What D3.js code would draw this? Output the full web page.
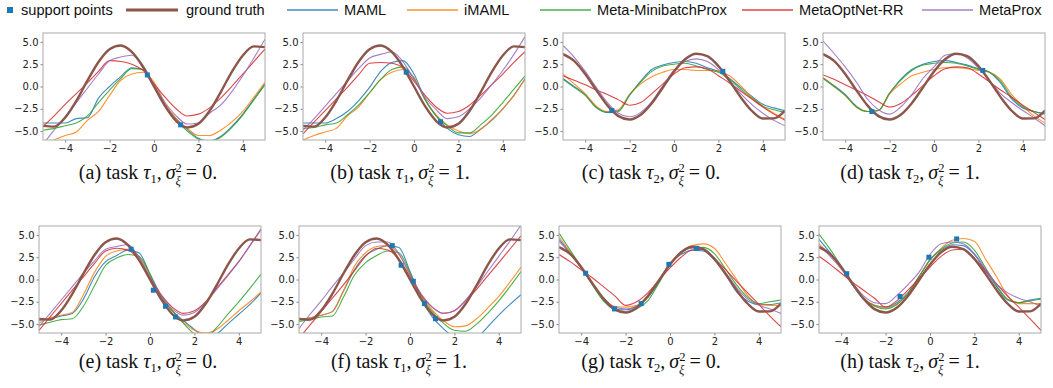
<!DOCTYPE html>
<html>
<head>
<meta charset="utf-8">
<script src="https://cdn.jsdelivr.net/npm/d3@7"></script>
<style>
  body { margin: 0; background: #fff; }
</style>
</head>
<body>
<svg id="chart" width="1053" height="388"></svg>
<script>
const xGrid = [-5, -4.5, -4, -3.5, -3, -2.5, -2, -1.5, -1, -0.5, 0, 0.5, 1, 1.5, 2, 2.5, 3, 3.5, 4, 4.5, 5];

const truthTau1 = [-4.41, -4.5, -3.48, -1.61, 0.65, 2.75, 4.18, 4.59, 3.87, 2.21, 0, -2.21, -3.87, -4.59, -4.18, -2.75, -0.65, 1.61, 3.48, 4.5, 4.41];
const truthTau2 = [3.64, 2.87, 1.4, -0.41, -2.12, -3.32, -3.7, -3.17, -1.87, -0.11, 1.68, 3.05, 3.68, 3.41, 2.3, 0.63, -1.19, -2.72, -3.59, -3.58, -2.7];

const methods = ["MAML", "iMAML", "Meta-MinibatchProx", "MetaOptNet-RR", "MetaProx"];
const methodColors = ["#1f77b4", "#ff7f0e", "#2ca02c", "#d62728", "#9467bd"];
const truthColor = "#8c564b";
const pointColor = "#1f77b4";

const seriesA = {
  "MAML":               [-4.1, -4.1, -4.1, -3.6, -3.5, -1.3, 0.0, 1.1, 2.1, 1.9, 0.1, -2.1, -3.6, -4.8, -5.8, -6.1, -5.6, -4.5, -3.1, -1.4, 0.3],
  "iMAML":              [-6.6, -6.0, -5.5, -5.1, -3.8, -2.8, -1.0, 0.7, 1.4, 1.6, 0.5, -1.9, -3.6, -4.7, -5.5, -5.5, -4.9, -4.0, -2.8, -1.2, 0.5],
  "Meta-MinibatchProx": [-4.9, -4.7, -4.4, -4.1, -3.3, -1.8, -0.4, 0.9, 2.0, 1.9, 0.1, -2.2, -3.8, -5.0, -5.9, -6.2, -5.7, -4.6, -3.2, -1.5, 0.2],
  "MetaOptNet-RR":      [-4.5, -3.3, -2.0, -0.8, 0.4, 1.7, 2.9, 2.8, 2.5, 1.8, 0.3, -1.2, -2.5, -3.3, -3.1, -2.4, -1.3, 0.0, 1.4, 2.8, 4.2],
  "MetaProx":           [-6.5, -4.9, -3.4, -1.8, -0.2, 1.4, 2.9, 3.3, 3.5, 2.4, 0.2, -1.8, -3.3, -4.2, -4.1, -3.0, -2.1, -0.6, 1.2, 3.2, 5.3]
};
const seriesB = {
  "MAML":               [-4.1, -4.1, -4.1, -3.6, -2.8, -1.6, -0.1, 1.7, 2.7, 2.9, 1.4, -1.4, -3.3, -4.7, -5.4, -5.6, -4.8, -3.8, -2.5, -1.0, 0.9],
  "iMAML":              [-6.0, -5.5, -5.1, -4.7, -3.3, -2.3, -0.7, 0.8, 1.6, 1.9, 1.0, -1.4, -3.2, -4.3, -5.0, -5.3, -4.8, -3.7, -2.5, -1.0, 0.8],
  "Meta-MinibatchProx": [-4.7, -4.6, -4.3, -4.1, -3.2, -2.1, -0.7, 0.8, 1.9, 2.2, 0.9, -1.5, -3.3, -4.4, -5.2, -5.2, -4.3, -3.2, -1.8, -0.3, 1.2],
  "MetaOptNet-RR":      [-5.3, -4.0, -2.7, -1.4, -0.1, 1.3, 2.6, 2.7, 2.6, 2.1, 0.6, -1.0, -2.3, -3.0, -2.8, -2.1, -1.0, 0.2, 1.4, 2.7, 3.9],
  "MetaProx":           [-4.9, -3.6, -2.2, -0.8, 0.6, 2.0, 3.2, 3.6, 3.9, 2.8, 0.8, -1.2, -2.6, -3.6, -3.4, -2.5, -1.3, 0.2, 1.8, 3.6, 5.6]
};
const seriesC = {
  "MAML":               [0.9, 0.0, -0.9, -2.3, -2.9, -2.7, -1.0, 0.6, 1.9, 2.4, 2.7, 2.8, 2.6, 2.1, 1.7, 0.9, -0.1, -1.1, -2.0, -2.4, -2.7],
  "iMAML":              [1.4, 0.3, -0.8, -2.2, -2.8, -2.6, -0.9, 0.3, 1.1, 1.6, 1.9, 1.9, 1.8, 1.8, 1.7, 1.2, 0.1, -1.2, -2.2, -3.0, -3.7],
  "Meta-MinibatchProx": [0.8, -0.1, -1.0, -2.4, -2.9, -2.8, -0.9, 0.5, 1.7, 2.3, 2.5, 2.6, 2.3, 1.9, 1.6, 0.8, -0.3, -1.3, -2.2, -2.6, -2.9],
  "MetaOptNet-RR":      [1.2, 0.7, 0.2, -0.4, -0.9, -1.5, -2.1, -1.8, -0.8, 0.3, 1.4, 2.1, 2.2, 2.0, 1.2, 0.4, -0.5, -1.4, -2.3, -3.1, -3.8],
  "MetaProx":           [4.6, 3.3, 1.7, -0.1, -1.8, -3.0, -3.4, -2.9, -1.7, 0.1, 1.8, 2.8, 3.1, 2.8, 1.9, 0.6, -0.8, -2.0, -3.0, -3.8, -4.4]
};
const seriesD = {
  "MAML":               [1.0, 0.1, -0.9, -2.2, -2.8, -2.7, -0.8, 0.8, 1.9, 2.5, 2.8, 2.9, 2.7, 2.4, 2.0, 1.6, 0.4, -1.4, -2.4, -2.8, -3.0],
  "iMAML":              [1.0, 0.0, -1.0, -2.3, -2.8, -2.7, -0.8, 0.3, 1.2, 1.6, 1.9, 2.1, 2.1, 2.0, 1.8, 1.6, 0.8, -0.9, -2.2, -3.3, -4.1],
  "Meta-MinibatchProx": [0.9, 0.0, -1.0, -2.3, -2.8, -2.7, -0.7, 0.7, 1.8, 2.4, 2.6, 2.7, 2.6, 2.3, 1.9, 1.6, 0.6, -1.2, -2.3, -2.8, -3.1],
  "MetaOptNet-RR":      [1.3, 0.8, 0.2, -0.4, -1.0, -1.7, -2.3, -1.9, -1.0, 0.1, 1.2, 2.0, 2.2, 2.1, 1.4, 0.5, -0.4, -1.2, -2.1, -2.9, -3.7],
  "MetaProx":           [5.1, 3.7, 2.2, 0.5, -1.4, -2.6, -3.1, -2.3, -0.9, 0.9, 2.2, 3.5, 3.7, 3.2, 2.1, 0.7, -0.8, -1.8, -2.7, -3.5, -4.4]
};
const seriesE = {
  "MAML":               [-4.6, -4.4, -4.1, -3.8, -2.2, 0.3, 2.0, 2.7, 3.3, 3.0, 0.6, -1.8, -3.5, -4.6, -5.6, -6.4, -6.1, -5.0, -3.9, -2.8, -1.5],
  "iMAML":              [-4.9, -4.3, -4.0, -3.7, -1.7, 0.8, 2.6, 3.2, 3.4, 2.6, 0.5, -2.0, -3.5, -4.8, -5.7, -6.0, -5.6, -4.6, -3.5, -2.5, -1.4],
  "Meta-MinibatchProx": [-5.1, -4.8, -4.5, -4.4, -3.0, -0.7, 1.6, 2.4, 2.8, 2.6, 0.6, -2.0, -3.5, -4.9, -6.1, -6.5, -5.4, -3.9, -2.5, -1.0, 0.6],
  "MetaOptNet-RR":      [-5.7, -4.2, -2.7, -1.2, 0.3, 1.8, 3.2, 3.5, 3.3, 2.2, 0.2, -1.7, -3.1, -3.8, -3.5, -2.5, -1.0, 0.5, 2.0, 3.8, 5.6],
  "MetaProx":           [-5.3, -3.8, -2.3, -0.8, 0.7, 2.1, 3.4, 3.7, 3.9, 2.5, 0.3, -1.8, -3.3, -4.0, -3.7, -2.6, -1.1, 0.4, 2.0, 3.8, 5.7]
};
const seriesF = {
  "MAML":               [-4.5, -4.3, -4.0, -3.6, -1.3, 1.1, 2.7, 3.4, 3.8, 3.6, 0.9, -2.2, -4.2, -5.5, -6.5, -7.0, -6.6, -5.3, -4.0, -2.8, -1.7],
  "iMAML":              [-4.6, -4.3, -4.0, -3.6, -1.3, 1.5, 3.0, 3.7, 3.8, 2.8, 0.5, -1.8, -3.4, -4.6, -5.3, -5.2, -4.4, -3.2, -1.9, -0.3, 1.4],
  "Meta-MinibatchProx": [-4.7, -4.5, -4.2, -4.1, -2.0, 0.5, 1.9, 2.7, 3.2, 3.0, 0.8, -1.9, -3.6, -4.9, -5.7, -5.8, -5.0, -3.8, -2.4, -0.8, 0.9],
  "MetaOptNet-RR":      [-6.6, -5.1, -3.6, -2.1, -0.6, 1.0, 2.6, 3.5, 3.3, 2.3, 0.3, -1.7, -3.1, -3.8, -3.5, -2.4, -1.1, 0.4, 1.9, 3.4, 4.9],
  "MetaProx":           [-5.5, -3.9, -2.4, -0.8, 0.7, 2.3, 3.8, 4.2, 4.2, 2.9, 0.6, -1.6, -3.1, -3.8, -3.5, -2.3, -0.8, 0.9, 2.6, 4.3, 6.1]
};
const seriesG = {
  "MAML":               [4.5, 3.0, 1.3, -0.5, -2.3, -3.3, -3.4, -3.0, -2.0, -0.3, 1.8, 2.8, 3.3, 3.2, 2.2, 0.6, -1.4, -2.4, -2.8, -2.8, -2.6],
  "iMAML":              [4.8, 3.1, 1.4, -0.5, -2.2, -3.0, -3.1, -2.9, -1.8, -0.1, 1.8, 3.1, 3.8, 4.0, 3.5, 1.8, 0.0, -1.8, -2.8, -2.9, -2.9],
  "Meta-MinibatchProx": [5.2, 3.3, 1.4, -0.6, -2.4, -3.4, -3.7, -3.3, -2.4, -0.4, 1.7, 3.0, 3.6, 3.6, 2.9, 1.2, -0.6, -2.0, -2.7, -2.5, -2.3],
  "MetaOptNet-RR":      [2.8, 2.0, 1.1, 0.2, -0.8, -1.8, -2.9, -2.5, -1.5, -0.1, 1.3, 2.5, 3.3, 3.4, 2.4, 1.1, -0.2, -1.5, -2.8, -4.1, -5.3],
  "MetaProx":           [4.3, 2.9, 1.3, -0.5, -2.1, -3.1, -3.3, -3.0, -2.0, -0.2, 1.7, 3.0, 3.5, 3.3, 2.3, 0.8, -0.9, -2.2, -2.9, -3.3, -3.8]
};
const seriesH = {
  "MAML":               [4.5, 3.0, 1.3, -0.6, -2.2, -2.9, -3.1, -2.6, -1.5, 0.3, 2.2, 3.3, 3.9, 3.8, 2.8, 1.0, -0.8, -2.3, -2.6, -2.3, -2.1],
  "iMAML":              [4.0, 2.8, 1.4, -0.5, -2.1, -2.9, -3.2, -2.8, -1.6, 0.3, 2.2, 3.5, 4.4, 4.6, 4.3, 2.3, 0.3, -1.8, -2.7, -2.7, -2.7],
  "Meta-MinibatchProx": [5.1, 3.4, 1.5, -0.5, -2.1, -3.0, -3.3, -2.8, -1.6, 0.3, 2.2, 3.4, 4.1, 4.2, 3.3, 1.3, -0.7, -2.2, -2.6, -2.4, -2.2],
  "MetaOptNet-RR":      [2.6, 1.7, 0.7, -0.3, -1.2, -2.1, -3.1, -2.4, -1.2, 0.1, 1.4, 2.6, 3.3, 3.4, 2.4, 1.0, -0.5, -1.9, -3.1, -4.4, -5.7],
  "MetaProx":           [3.8, 2.6, 1.2, -0.4, -1.8, -2.6, -2.7, -1.8, -0.6, 0.8, 2.8, 4.0, 4.2, 4.0, 2.9, 1.2, -0.5, -1.5, -2.1, -2.5, -3.0]
};

// support points [x, y]
const pointsA = [[-0.3, 1.3], [1.2, -4.3]];
const pointsB = [[-0.35, 1.6], [1.2, -3.95]];
const pointsC = [[-2.8, -2.7], [2.2, 1.7]];
const pointsD = [[-2.8, -2.8], [2.2, 1.8]];
const pointsE = [[-0.85, 3.4], [0.15, -1.2], [0.7, -3.0], [1.15, -4.2]];
const pointsF = [[-0.8, 3.8], [-0.4, 1.6], [0.15, -0.2], [0.65, -2.7], [1.15, -4.4]];
const pointsG = [[-3.8, 0.7], [-2.5, -3.3], [-1.3, -2.7], [-0.05, 1.7], [1.2, 3.5]];
const pointsH = [[-3.75, 0.65], [-1.35, -1.9], [-0.05, 2.5], [1.2, 4.55]];

const xTicks = [-4, -2, 0, 2, 4];
const yTicks = [5, 2.5, 0, -2.5, -5];

const captionLetters = ["a", "b", "c", "d", "e", "f", "g", "h"];
const captionTask = ["1", "1", "2", "2", "1", "1", "2", "2"];
const captionNoise = ["0", "1", "0", "1", "0", "1", "0", "1"];

const svg = d3.select("#chart");
const panelW = 222, panelH = 107;

const panels = [
  { left: 43,  top: 33,  series: seriesA, truth: truthTau1, points: pointsA, capX: 148 },
  { left: 303, top: 33,  series: seriesB, truth: truthTau1, points: pointsB, capX: 400 },
  { left: 563, top: 33,  series: seriesC, truth: truthTau2, points: pointsC, capX: 651 },
  { left: 823, top: 33,  series: seriesD, truth: truthTau2, points: pointsD, capX: 910 },
  { left: 39,  top: 226, series: seriesE, truth: truthTau1, points: pointsE, capX: 148 },
  { left: 299, top: 226, series: seriesF, truth: truthTau1, points: pointsF, capX: 399 },
  { left: 559, top: 226, series: seriesG, truth: truthTau2, points: pointsG, capX: 651 },
  { left: 819, top: 226, series: seriesH, truth: truthTau2, points: pointsH, capX: 910 }
];

const x = d3.scaleLinear().domain([-5, 5]).range([0, panelW]);
const y = d3.scaleLinear().domain([-6, 6]).range([panelH, 0]);

const line = d3.line()
  .x(function (d, i) { return x(xGrid[i]); })
  .y(function (d) { return y(d); })
  .curve(d3.curveMonotoneX);

panels.forEach(function (p, idx) {
  const g = svg.append("g").attr("transform", "translate(" + p.left + "," + p.top + ")");

  g.append("clipPath").attr("id", "clip" + idx)
    .append("rect").attr("width", panelW).attr("height", panelH);

  // axes
  const xAxis = d3.axisBottom(x).tickValues(xTicks).tickSize(2.5).tickPadding(2)
    .tickFormat(function (d) { return d3.format("")(d).replace("-", "\u2212"); });
  const yAxis = d3.axisLeft(y).tickValues(yTicks).tickSize(2.5).tickPadding(2)
    .tickFormat(function (d) { return d3.format(".1f")(d).replace("-", "\u2212"); });

  const gx = g.append("g").attr("transform", "translate(0," + panelH + ")").call(xAxis);
  const gy = g.append("g").call(yAxis);
  [gx, gy].forEach(function (ax) {
    ax.select(".domain").remove();
    ax.selectAll("line").attr("stroke", "#666").attr("stroke-width", 0.8);
    ax.selectAll("text").attr("font-family", "DejaVu Sans").attr("font-size", 10).attr("fill", "#222");
  });

  const plot = g.append("g").attr("clip-path", "url(#clip" + idx + ")");

  methods.forEach(function (m, k) {
    plot.append("path")
      .datum(p.series[m])
      .attr("d", line)
      .attr("fill", "none")
      .attr("stroke", methodColors[k])
      .attr("stroke-opacity", 0.85)
      .attr("stroke-width", 1.1);
  });

  plot.append("path")
    .datum(p.truth)
    .attr("d", line)
    .attr("fill", "none")
    .attr("stroke", truthColor)
    .attr("stroke-width", 2.4);

  plot.selectAll(".pt")
    .data(p.points)
    .enter()
    .append("rect")
    .attr("x", function (d) { return x(d[0]) - 2.5; })
    .attr("y", function (d) { return y(d[1]) - 2.5; })
    .attr("width", 5)
    .attr("height", 5)
    .attr("fill", pointColor);

  g.append("rect")
    .attr("width", panelW)
    .attr("height", panelH)
    .attr("fill", "none")
    .attr("stroke", "#aaa")
    .attr("stroke-width", 1);

  // caption, LaTeX-like spacing
  const cap = svg.append("text")
    .attr("x", p.capX)
    .attr("y", p.top + (idx < 4 ? 146 : 142))
    .attr("text-anchor", "middle")
    .attr("font-family", "Liberation Serif")
    .attr("font-size", 20)
    .attr("fill", "#111");
  cap.append("tspan").text("(" + captionLetters[idx] + ") task ");
  cap.append("tspan").attr("font-style", "italic").text("\u03C4");
  cap.append("tspan").attr("font-size", 12.5).attr("dy", 3.5).text(captionTask[idx]);
  cap.append("tspan").attr("dy", -3.5).text(",");
  cap.append("tspan").attr("font-style", "italic").attr("dx", 4).text("\u03C3");
  cap.append("tspan").attr("font-size", 12.5).attr("dy", -7.5).text("2");
  cap.append("tspan").attr("font-size", 12.5).attr("font-style", "italic").attr("dx", -6.3).attr("dy", 13.5).text("\u03BE");
  cap.append("tspan").attr("dy", -6).attr("dx", 5).text("=");
  cap.append("tspan").attr("dx", 5).text(captionNoise[idx] + ".");
});

// legend
const legend = svg.append("g").attr("font-family", "Liberation Sans").attr("font-size", 14.6).attr("fill", "#111");
legend.append("rect").attr("x", 7).attr("y", 7).attr("width", 6).attr("height", 6).attr("fill", pointColor);
legend.append("text").attr("x", 21).attr("y", 14.5).text("support points");

const legendLines = [
  { x1: 126, x2: 178, tx: 186, color: truthColor, w: 3, label: "ground truth" }
].concat(methods.map(function (m, k) {
  const starts = [287, 407, 540, 742, 922];
  return { x1: starts[k], x2: starts[k] + 51, tx: starts[k] + 57, color: methodColors[k], w: 1.5, label: m };
}));

legendLines.forEach(function (d) {
  legend.append("line")
    .attr("x1", d.x1).attr("x2", d.x2).attr("y1", 10).attr("y2", 10)
    .attr("stroke", d.color).attr("stroke-width", d.w)
    .attr("stroke-opacity", d.w > 2 ? 1 : 0.85);
  legend.append("text").attr("x", d.tx).attr("y", 14.5).text(d.label);
});
</script>
</body>
</html>
